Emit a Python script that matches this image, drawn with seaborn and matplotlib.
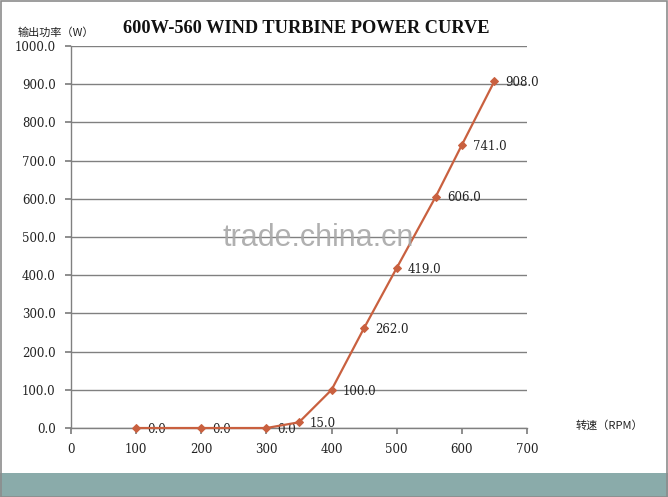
import matplotlib
matplotlib.use("Agg")
import matplotlib.pyplot as plt
import seaborn as sns
import pandas as pd
from matplotlib.patches import Rectangle

# Power curve data
rpm = [100, 200, 300, 350, 400, 450, 500, 560, 600, 650]
power = [0.0, 0.0, 0.0, 15.0, 100.0, 262.0, 419.0, 606.0, 741.0, 908.0]
x_ticks = [0, 100, 200, 300, 400, 500, 600, 700]
y_ticks = [0, 100, 200, 300, 400, 500, 600, 700, 800, 900, 1000]

df = pd.DataFrame({"rpm": rpm, "power": power})

sns.set_theme(style="white")
plt.rcParams['font.family'] = ['DejaVu Serif', 'Noto Sans CJK SC', 'DejaVu Sans']

fig = plt.figure(figsize=(6.68, 4.97), dpi=100)
ax = fig.add_axes([0.1063, 0.1388, 0.6826, 0.7686])

line_color = "#C9603F"
sns.lineplot(data=df, x="rpm", y="power", ax=ax, color=line_color,
             linewidth=1.6, marker="D", markersize=4.5, clip_on=False, zorder=4,
             markeredgecolor=line_color, markerfacecolor=line_color)

for xv, yv in zip(rpm, power):
    ax.annotate(f"{yv:.1f}", (xv, yv), xytext=(8, -1), textcoords="offset points",
                ha="left", va="center", fontsize=8.5, color="#222222")

ax.set_xlim(0, 700)
ax.set_ylim(0, 1000)
ax.set_xticks(x_ticks)
ax.set_yticks(y_ticks)
ax.set_xticklabels([str(v) for v in x_ticks])
ax.set_yticklabels([f"{v:.1f}" for v in y_ticks])
ax.tick_params(axis="both", labelsize=8.5, colors="#222222", length=4,
               color="#808080", direction="out", bottom=True, left=True, pad=7)

ax.grid(axis="y", color="#808080", linewidth=1)
ax.grid(axis="x", visible=False)
for side in ["top", "right"]:
    ax.spines[side].set_visible(False)
for side in ["left", "bottom"]:
    ax.spines[side].set_color("#808080")
    ax.spines[side].set_linewidth(1)
ax.set_xlabel("")
ax.set_ylabel("")

# Titles and axis labels
fig.text(0.458, 0.943, "600W-560 WIND TURBINE POWER CURVE", ha="center", va="center",
         fontsize=13.2, fontweight="bold", color="#111111",
         family=['Liberation Serif', 'DejaVu Serif'])
fig.text(0.027, 0.935, "输出功率（W）", ha="left", va="center", fontsize=8,
         family=['Noto Sans CJK SC', 'DejaVu Sans'], color="#222222")
fig.text(0.862, 0.143, "转速（RPM）", ha="left", va="center", fontsize=8,
         family=['Noto Sans CJK SC', 'DejaVu Sans'], color="#222222")

# Watermark
fig.text(0.476, 0.522, "trade.china.cn", ha="center", va="center", fontsize=22,
         family=["Liberation Sans", "DejaVu Sans"], color="#A8A8A8", alpha=0.9)

# Bottom band and border
fig.patches.append(Rectangle((0, 0), 1, 24 / 497, transform=fig.transFigure,
                             facecolor="#8AABAA", edgecolor="none", zorder=0))
fig.patches.append(Rectangle((0.001, 0.001), 0.998, 0.997, transform=fig.transFigure,
                             facecolor="none", edgecolor="#8C8C8C", linewidth=1.2, zorder=5))

fig.savefig("out.png", dpi=100)
